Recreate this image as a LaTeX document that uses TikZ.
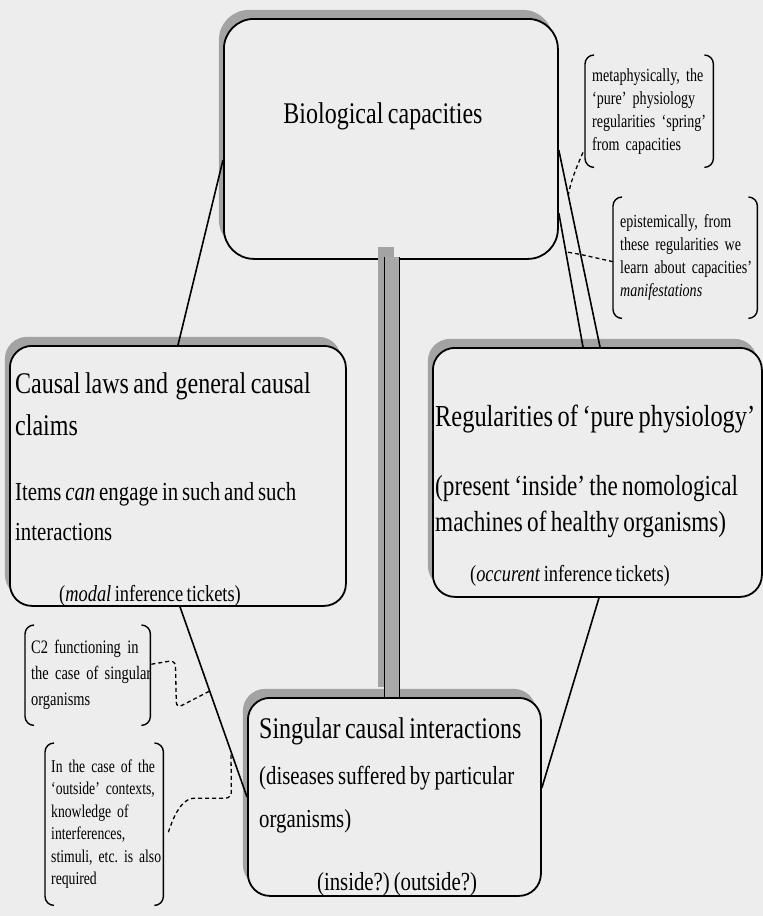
\documentclass[tikz,border=0pt]{standalone}
\usepackage{fontspec}
\setmainfont{Liberation Serif}[FakeStretch=0.8, WordSpace=0.75]
\newfontfamily\notefont{Liberation Serif}[Ligatures=TeX, FakeStretch=0.76]
\usetikzlibrary{calc,shadows}
\definecolor{bg}{gray}{0.93}
\definecolor{shadowgray}{gray}{0.64}
\definecolor{bargray}{gray}{0.66}
\frenchspacing
% left and right round brackets around a note node
\newcommand\notebrackets[1]{%
  \draw[brk] ($(#1.north west)+(9,0)$) -- (#1.north west) -- (#1.south west) -- ($(#1.south west)+(9,0)$);
  \draw[brk] ($(#1.north east)+(-9,0)$) -- (#1.north east) -- (#1.south east) -- ($(#1.south east)+(-9,0)$);
}
% small condensed type for the bracketed notes, with tight word spaces
\newcommand\notesize[2]{\notefont\fontsize{#1}{#2}\selectfont\spaceskip=0.16em plus 0.05em\relax}
\begin{document}
\begin{tikzpicture}[x=1pt,y=-1pt,
  box/.style={draw=black, line width=1.8pt, fill=bg, rounded corners=#1, inner sep=0pt, anchor=north west,
    general shadow={fill=shadowgray, shadow xshift=-5pt, shadow yshift=9pt}},
  box/.default=22pt,
  lbl/.style={inner sep=0pt, anchor=base west},
  big/.style={font=\fontsize{30}{36}\selectfont},
  mid/.style={font=\fontsize{26}{31}\selectfont},
  tick/.style={font=\fontsize{23}{27}\selectfont},
  note/.style={inner xsep=7pt, inner ysep=0pt, align=left, anchor=north west},
  brk/.style={line width=1.4pt, rounded corners=9pt},
  link/.style={line width=1.6pt},
  dlink/.style={line width=1.3pt, dash pattern=on 4pt off 3pt, rounded corners=6pt}
]
\useasboundingbox (0,0) rectangle (763,916);
\fill[bg] (0,0) rectangle (763,916);

% main boxes
\node[box=30pt, minimum width=334pt, minimum height=240pt] (bio) at (223,18) {};
\node[box, minimum width=336pt, minimum height=260pt] (cau) at (9,345) {};
\node[box, minimum width=329pt, minimum height=249pt] (reg) at (432,347) {};
\node[box, minimum width=293pt, minimum height=198pt] (sing) at (247,697) {};

% connector end points on the box borders
\coordinate (a1) at ($(bio.north west)+(0,142)$);
\coordinate (a2) at ($(cau.north west)+(169,0)$);
\coordinate (b1) at ($(bio.north east)+(0,132)$);
\coordinate (b2) at ($(reg.north west)+(168,0)$);
\coordinate (c1) at ($(bio.north east)+(0,195)$);
\coordinate (c2) at ($(reg.north west)+(151,0)$);
\coordinate (d1) at ($(cau.south west)+(171,0)$);
\coordinate (d2) at ($(sing.north west)+(0,100)$);
\coordinate (e1) at ($(reg.south west)+(167,0)$);
\coordinate (e2) at ($(sing.north east)+(0,91)$);

\draw[link] (a1) -- (a2);
\draw[link] (b1) -- (b2);
\draw[link] (c1) -- (c2);
\draw[link] (d1) -- (d2);
\draw[link] (e1) -- (e2);

% thick grey pipe from capacities down to singular interactions
\coordinate (barT) at ($(bio.south)+(1,-3)$);
\coordinate (barB) at (barT |- sing.north);
\draw[line width=16pt, shadowgray, transform canvas={shift={(-6pt,10pt)}}] (barT) -- (barB);
\draw[line width=1.3pt, double=bargray, double distance=14pt] (barT) -- (barB);

% box texts
\node[lbl, anchor=base, big] (bioT) at (383,123) {Biological capacities};

\node[lbl, big] (cau1) at (15,393) {Causal laws and\hspace{3pt} general causal};
\node[lbl, big] (cau2) at (15,435) {claims};
\node[lbl, mid] (cau3) at (15,500) {Items \textit{can} engage in such and such};
\node[lbl, mid] (cau4) at (15,540) {interactions};
\node[lbl, anchor=base, tick] (cau5) at (150,601) {(\textit{modal} inference tickets)};

\node[lbl, font=\fontsize{30.5}{36}\selectfont] (reg1) at (435,426) {Regularities of `pure physiology'};
\node[lbl, font=\fontsize{29}{34}\selectfont] (reg2) at (435,495) {(present `inside' the nomological};
\node[lbl, font=\fontsize{29}{34}\selectfont] (reg3) at (435,531) {machines of healthy organisms)};
\node[lbl, anchor=base, tick] (reg4) at (570,581) {(\textit{occurent} inference tickets)};

\node[lbl, big] (sin1) at (259,738) {Singular causal interactions};
\node[lbl, mid] (sin2) at (259,784) {(diseases suffered by particular};
\node[lbl, mid] (sin3) at (259,827) {organisms)};
\node[lbl, anchor=base, mid] (sin4) at (397,890) {(inside?) (outside?)};

% bracketed notes
\node[note, text width=114pt, minimum height=112pt, font=\notesize{18.5}{23}] (meta) at (585,55)
  {\mbox{metaphysically, the}\\\mbox{`pure' physiology}\\\mbox{regularities `spring'}\\\mbox{from capacities}};
\notebrackets{meta}

\node[note, text width=130pt, minimum height=121pt, font=\notesize{18.5}{23}] (epi) at (613,197)
  {\mbox{epistemically, from}\\\mbox{these regularities we}\\\mbox{learn about capacities'}\\\mbox{\textit{manifestations}}};
\notebrackets{epi}

\node[note, inner xsep=6pt, text width=113pt, minimum height=100pt, font=\notesize{19}{26}] (ctwo) at (25,625)
  {\mbox{C2 functioning in}\\\mbox{the case of singular}\\\mbox{organisms}};
\notebrackets{ctwo}

\node[note, inner xsep=6pt, text width=106pt, minimum height=162pt, font=\notesize{18}{22.5}] (incase) at (45,743)
  {\mbox{In the case of the}\\\mbox{`outside' contexts,}\\\mbox{knowledge of}\\\mbox{interferences,}\\\mbox{stimuli, etc. is also}\\\mbox{required}};
\notebrackets{incase}

% dashed leaders from the notes to the connectors
\draw[dlink] ($(meta.south west)+(-2,-15)$) .. controls +(-8,18) and +(2,-12) .. ($(b1)!0.23!(b2)$);
\draw[dlink] ($(epi.west)+(0,4)$) -- ($(b1)!0.53!(b2)$) -- ($(c1)!0.29!(c2)$);
\draw[dlink] ($(ctwo.east)+(1,-11)$) -- ++(24,-4) -- ++(1,48) -- ($(d1)!0.443!(d2)$);
\draw[dlink] ($(incase.east)+(5,8)$) .. controls +(8,-25) and +(-15,0) .. ++(32,-34) -- ++(31,0) -- ($(d1)!0.761!(d2)$);
\end{tikzpicture}
\end{document}
